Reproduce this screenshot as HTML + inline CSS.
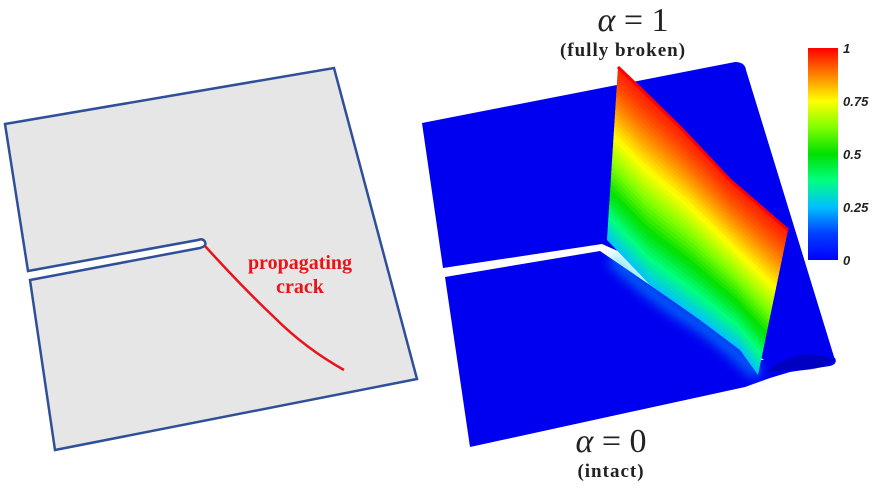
<!DOCTYPE html>
<html><head><meta charset="utf-8"><style>
html,body{margin:0;padding:0;background:#fff;}
svg{display:block;}
</style></head><body>
<svg id="fig" width="874" height="488" viewBox="0 0 874 488" xmlns="http://www.w3.org/2000/svg">
<defs>
<linearGradient id="cb" x1="0" y1="1" x2="0" y2="0">
<stop offset="0" stop-color="#0000ff"/><stop offset="0.125" stop-color="#0040ff"/><stop offset="0.25" stop-color="#00c0ff"/><stop offset="0.375" stop-color="#00ff80"/><stop offset="0.5" stop-color="#00e000"/><stop offset="0.625" stop-color="#80ff00"/><stop offset="0.75" stop-color="#ffff00"/><stop offset="0.875" stop-color="#ff8000"/><stop offset="1" stop-color="#ff0000"/>
</linearGradient>
<filter id="blur"><feGaussianBlur stdDeviation="6"/></filter>
</defs>
<path d="M5,124 L334,68 L417,379 L55,450 L30,280 L200,248 Q207,246 205,242 Q203,238 198,240 L28,271 Z" fill="#e6e6e6" stroke="#2f4f99" stroke-width="2.5" stroke-linejoin="miter"/>
<path d="M205,246 Q245,290 275,318 Q305,348 344,370" fill="none" stroke="#e8141a" stroke-width="2.5"/>
<text x="300" y="269" text-anchor="middle" font-family="Liberation Serif, serif" font-weight="bold" font-size="20" fill="#e8141a">propagating</text>
<text x="300" y="293" text-anchor="middle" font-family="Liberation Serif, serif" font-weight="bold" font-size="20" fill="#e8141a">crack</text>
<path d="M422,123 L735,62 Q745,62 746,70 L835,360 L780,372 L620,252 L602,244 L443,268 Z" fill="#0000f0"/>
<path d="M445,277 L600,251 L760,360 L835,358 Q838,364 830,366 L790,372 L770,378 L745,387 L470,447 Z" fill="#0000f0"/>
<path d="M765,372 Q800,345 835,360 Q820,372 790,370 Z" fill="#0000a0" opacity="0.6"/>
<path d="M612,258 Q650,295 700,325 Q735,350 758,375" fill="none" stroke="#00c8ff" stroke-width="12" opacity="0.55" filter="url(#blur)"/>
<g id="wall"></g>
<text x="633" y="31" text-anchor="middle" font-family="Liberation Serif, serif" font-size="34" fill="#222"><tspan font-style="italic">α</tspan>  =  1</text>
<text x="623" y="56" text-anchor="middle" font-family="Liberation Serif, serif" font-weight="bold" font-size="19" letter-spacing="1" fill="#222">(fully broken)</text>
<text x="611" y="452" text-anchor="middle" font-family="Liberation Serif, serif" font-size="34" fill="#222"><tspan font-style="italic">α</tspan>  =  0</text>
<text x="611" y="477" text-anchor="middle" font-family="Liberation Serif, serif" font-weight="bold" font-size="19" letter-spacing="1" fill="#222">(intact)</text>
<rect x="808" y="48" width="30" height="212" fill="url(#cb)"/>
<g id="cbticks"></g>
</svg>
<script>
const tickValues = [0, 0.25, 0.5, 0.75, 1];
const tickLabels = ["0", "0.25", "0.5", "0.75", "1"];
const ridgeTopX = [618, 640, 680, 730, 788];
const ridgeTopY = [67, 88, 127, 180, 230];
const ridgeBaseX = [607, 650, 700, 740, 758];
const ridgeBaseY = [240, 285, 320, 350, 375];
const NS = "http://www.w3.org/2000/svg";
const cmap = [[0,0,255],[0,64,255],[0,192,255],[0,255,128],[0,224,0],[128,255,0],[255,255,0],[255,128,0],[255,0,0]];
function jet(v){
  v = Math.max(0, Math.min(1, v));
  const f = v * (cmap.length - 1), i = Math.min(cmap.length - 2, Math.floor(f)), u = f - i;
  const c = cmap[i].map((a, k) => Math.round(a + (cmap[i+1][k] - a) * u));
  return `rgb(${c[0]},${c[1]},${c[2]})`;
}
const cbY = v => 260 - v * 212;
const ticks = document.getElementById('cbticks');
tickValues.forEach((v, i) => {
  const t = document.createElementNS(NS, 'text');
  
  
  t.setAttribute('x', 843);
  t.setAttribute('y', cbY(v) + 5);
  t.setAttribute('font-family', 'Liberation Sans, sans-serif');
  t.setAttribute('font-style', 'italic');
  t.setAttribute('font-weight', 'bold');
  t.setAttribute('font-size', '13');
  t.setAttribute('fill', '#222');
  t.textContent = tickLabels[i];
  ticks.appendChild(t);
});
const wall = document.getElementById('wall');
const N = 40;
function pt(i, t){
  return [ridgeTopX[i] + (ridgeBaseX[i] - ridgeTopX[i]) * t, ridgeTopY[i] + (ridgeBaseY[i] - ridgeTopY[i]) * t];
}
for (let k = 0; k < N; k++) {
  const t0 = k / N, t1 = (k + 1) / N;
  const pts = [];
  for (let i = 0; i < ridgeTopX.length; i++) pts.push(pt(i, t0));
  for (let i = ridgeTopX.length - 1; i >= 0; i--) pts.push(pt(i, Math.min(1, t1 + 0.01)));
  const p = document.createElementNS(NS, 'polygon');
  
  
  p.setAttribute('points', pts.map(q => q.join(',')).join(' '));
  const tm = (t0 + t1) / 2;
  p.setAttribute('fill', jet(0.97 - 0.72 * Math.pow(tm, 1.3)));
  wall.appendChild(p);
}
const edge = document.createElementNS(NS, 'polyline');


edge.setAttribute('points', ridgeTopX.map((x, i) => x + ',' + ridgeTopY[i]).join(' '));
edge.setAttribute('fill', 'none');
edge.setAttribute('stroke', '#ff0000');
edge.setAttribute('stroke-width', '3');
wall.appendChild(edge);
</script>
</body></html>
